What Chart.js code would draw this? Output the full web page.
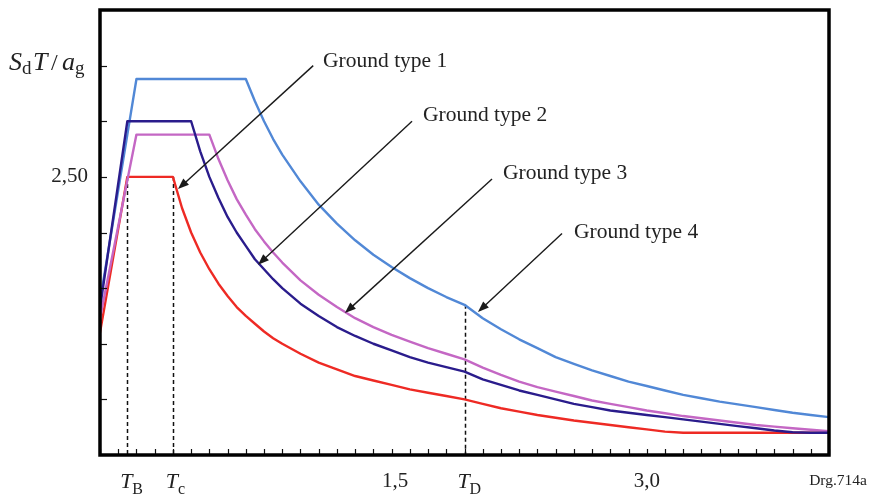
<!DOCTYPE html>
<html>
<head>
<meta charset="utf-8">
<script src="https://cdn.jsdelivr.net/npm/chart.js@4.4.1/dist/chart.umd.min.js"></script>
<style>
  body { margin: 0; background: #fff; }
  #wrap { width: 869px; height: 498px; }
</style>
</head>
<body>
<div id="wrap"><canvas id="spectrum" width="869" height="498"></canvas></div>
<script>
// periods T (s) shared by all four spectra
const periods = [0, 0.15, 0.2, 0.3, 0.4, 0.45, 0.5, 0.55, 0.6, 0.65, 0.7, 0.75, 0.8, 0.85, 0.9, 0.95, 1.0, 1.1, 1.2, 1.3, 1.4, 1.5, 1.6, 1.7, 1.8, 1.9, 2.0,
                 2.1, 2.2, 2.3, 2.4, 2.5, 2.6, 2.7, 2.8, 2.9, 3.0, 3.1, 3.2, 3.3, 3.4, 3.5, 3.6, 3.7, 3.8, 3.9, 4.0];

// Sd(T)/ag
const groundType1 = [1.10, 2.50, 2.50, 2.50, 2.50, 2.22, 2.00, 1.82, 1.67, 1.54, 1.43, 1.33, 1.25, 1.18, 1.11, 1.05, 1.00, 0.91, 0.83, 0.77, 0.71, 0.67, 0.63, 0.59, 0.56, 0.53, 0.50,
                     0.46, 0.42, 0.39, 0.36, 0.335, 0.31, 0.29, 0.27, 0.25, 0.23, 0.21, 0.20, 0.20, 0.20, 0.20, 0.20, 0.20, 0.20, 0.20, 0.20];
const groundType2 = [1.32, 3.00, 3.00, 3.00, 3.00, 3.00, 3.00, 2.73, 2.50, 2.31, 2.14, 2.00, 1.88, 1.76, 1.67, 1.58, 1.50, 1.36, 1.25, 1.15, 1.07, 1.00, 0.94, 0.88, 0.83, 0.79, 0.75,
                     0.68, 0.63, 0.58, 0.54, 0.50, 0.46, 0.43, 0.40, 0.38, 0.36, 0.34, 0.32, 0.30, 0.28, 0.26, 0.24, 0.22, 0.205, 0.20, 0.20];
const groundType3 = [1.23, 2.47, 2.88, 2.88, 2.88, 2.88, 2.88, 2.88, 2.88, 2.66, 2.47, 2.30, 2.16, 2.03, 1.92, 1.82, 1.73, 1.57, 1.44, 1.33, 1.23, 1.15, 1.08, 1.02, 0.96, 0.91, 0.86,
                     0.785, 0.72, 0.66, 0.61, 0.57, 0.53, 0.49, 0.46, 0.43, 0.40, 0.375, 0.35, 0.33, 0.31, 0.29, 0.27, 0.255, 0.24, 0.227, 0.215];
const groundType4 = [1.38, 2.88, 3.38, 3.38, 3.38, 3.38, 3.38, 3.38, 3.38, 3.38, 3.38, 3.38, 3.38, 3.18, 3.00, 2.84, 2.70, 2.46, 2.25, 2.08, 1.93, 1.80, 1.69, 1.59, 1.50, 1.42, 1.35,
                     1.23, 1.13, 1.04, 0.96, 0.88, 0.82, 0.76, 0.71, 0.66, 0.62, 0.58, 0.54, 0.51, 0.48, 0.455, 0.43, 0.405, 0.38, 0.36, 0.34];

// x axis labels (value, main text, subscript)
const xLabelAt = [0.15, 0.4, 1.62, 2.0, 3.0];
const xLabelText = ['T', 'T', '1,5', 'T', '3,0'];
const xLabelSub = ['B', 'c', '', 'D', ''];

// y axis labels
const yLabelAt = [2.5];
const yLabelText = ['2,50'];

// dashed markers for TB, TC, TD
const markerAt = [0.15, 0.4, 2.0];
const markerTop = [2.5, 2.5, 1.35];

// callouts, positions in data units
const notes = [
  { text: 'Ground type 1', tx: 1.224, ty: 3.54, from: [1.17, 3.50], to: [0.428, 2.39] },
  { text: 'Ground type 2', tx: 1.772, ty: 3.05, from: [1.712, 3.00], to: [0.867, 1.71] },
  { text: 'Ground type 3', tx: 2.211, ty: 2.535, from: [2.151, 2.48], to: [1.344, 1.276] },
  { text: 'Ground type 4', tx: 2.601, ty: 2.00, from: [2.535, 1.99], to: [2.074, 1.285] }
];

const SERIF = '"Liberation Serif", "DejaVu Serif", serif';

function series(vals) { return periods.map((t, i) => ({ x: t, y: vals[i] })); }

function arrow(ctx, x1, y1, x2, y2) {
  const a = Math.atan2(y2 - y1, x2 - x1), len = 11, hw = 4.2;
  ctx.beginPath(); ctx.moveTo(x1, y1); ctx.lineTo(x2 - Math.cos(a) * len * 0.8, y2 - Math.sin(a) * len * 0.8); ctx.stroke();
  ctx.beginPath();
  ctx.moveTo(x2, y2);
  ctx.lineTo(x2 - Math.cos(a) * len - Math.sin(a) * hw, y2 - Math.sin(a) * len + Math.cos(a) * hw);
  ctx.lineTo(x2 - Math.cos(a) * len + Math.sin(a) * hw, y2 - Math.sin(a) * len - Math.cos(a) * hw);
  ctx.closePath(); ctx.fill();
}

const markersPlugin = {
  id: 'markers',
  beforeDatasetsDraw(chart) {
    const { ctx, scales: { x, y } } = chart;
    ctx.save();
    ctx.strokeStyle = '#111'; ctx.lineWidth = 1.5; ctx.setLineDash([4, 3]);
    markerAt.forEach((t, i) => {
      const px = Math.round(x.getPixelForValue(t)) + 0.5;
      ctx.beginPath(); ctx.moveTo(px, y.getPixelForValue(markerTop[i])); ctx.lineTo(px, y.getPixelForValue(0)); ctx.stroke();
    });
    ctx.restore();
  }
};

const framePlugin = {
  id: 'frame',
  afterDraw(chart) {
    const { ctx, chartArea: a, scales: { x, y } } = chart;
    ctx.save();
    // ticks inside the frame
    ctx.strokeStyle = '#111'; ctx.lineWidth = 1.2;
    x.ticks.forEach(tk => {
      const px = Math.round(x.getPixelForValue(tk.value)) + 0.5;
      ctx.beginPath(); ctx.moveTo(px, a.bottom); ctx.lineTo(px, a.bottom - 6); ctx.stroke();
    });
    y.ticks.forEach(tk => {
      if (tk.value <= 0 || tk.value >= 4) return;
      const py = Math.round(y.getPixelForValue(tk.value)) + 0.5;
      ctx.beginPath(); ctx.moveTo(a.left, py); ctx.lineTo(a.left + 7, py); ctx.stroke();
    });
    // frame
    ctx.strokeStyle = '#000'; ctx.lineWidth = 3.5;
    ctx.strokeRect(a.left, a.top, a.right - a.left, a.bottom - a.top);

    // x labels
    ctx.fillStyle = '#222'; ctx.textBaseline = 'alphabetic';
    xLabelAt.forEach((t, i) => {
      const px = x.getPixelForValue(t);
      if (xLabelSub[i]) {
        ctx.font = 'italic 22px ' + SERIF; ctx.textAlign = 'center';
        ctx.fillText(xLabelText[i], px - 1, 488);
        ctx.font = '16px ' + SERIF; ctx.textAlign = 'left';
        ctx.fillText(xLabelSub[i], px + 5, 494);
      } else {
        ctx.font = '21px ' + SERIF; ctx.textAlign = 'center';
        ctx.fillText(xLabelText[i], px, 487);
      }
    });
    // y labels
    ctx.font = '21px ' + SERIF; ctx.textAlign = 'right'; ctx.textBaseline = 'middle';
    yLabelAt.forEach((v, i) => ctx.fillText(yLabelText[i], 88, y.getPixelForValue(v)));

    // y title  Sd T / ag
    ctx.textAlign = 'left'; ctx.textBaseline = 'alphabetic';
    ctx.font = 'italic 26px ' + SERIF; ctx.fillText('S', 9, 70);
    ctx.font = '19px ' + SERIF; ctx.fillText('d', 22, 74);
    ctx.font = 'italic 26px ' + SERIF; ctx.fillText('T', 33, 70);
    ctx.font = '24px ' + SERIF; ctx.fillText('/', 51, 70);
    ctx.font = 'italic 26px ' + SERIF; ctx.fillText('a', 62, 70);
    ctx.font = '19px ' + SERIF; ctx.fillText('g', 75, 74);

    // drawing number
    ctx.font = '15.5px ' + SERIF; ctx.textAlign = 'right';
    ctx.fillText('Drg.714a', 867, 485);

    // callouts
    ctx.strokeStyle = '#1a1a1a'; ctx.fillStyle = '#1a1a1a'; ctx.lineWidth = 1.4;
    notes.forEach(n => {
      arrow(ctx, x.getPixelForValue(n.from[0]), y.getPixelForValue(n.from[1]), x.getPixelForValue(n.to[0]), y.getPixelForValue(n.to[1]));
    });
    ctx.fillStyle = '#222'; ctx.font = '21.5px ' + SERIF; ctx.textAlign = 'left'; ctx.textBaseline = 'middle';
    notes.forEach(n => ctx.fillText(n.text, x.getPixelForValue(n.tx), y.getPixelForValue(n.ty)));
    ctx.restore();
  }
};

const lineStyle = { borderWidth: 2.4, pointRadius: 0, tension: 0, fill: false, borderJoinStyle: 'round' };

new Chart(document.getElementById('spectrum'), {
  type: 'line',
  data: {
    datasets: [
      { label: 'Ground type 2', data: series(groundType2), borderColor: '#2a1c8c', ...lineStyle },
      { label: 'Ground type 3', data: series(groundType3), borderColor: '#c467c4', ...lineStyle },
      { label: 'Ground type 1', data: series(groundType1), borderColor: '#ee2a24', ...lineStyle },
      { label: 'Ground type 4', data: series(groundType4), borderColor: '#5188d6', ...lineStyle }
    ]
  },
  options: {
    responsive: false,
    animation: false,
    layout: { padding: { left: 100, right: 40, top: 10, bottom: 43 } },
    plugins: { legend: { display: false }, tooltip: { enabled: false } },
    scales: {
      x: { type: 'linear', display: false, min: 0, max: 4,
           ticks: { stepSize: 0.1, autoSkip: false, maxTicksLimit: 100 } },
      y: { type: 'linear', display: false, min: 0, max: 4,
           ticks: { stepSize: 0.5 } }
    }
  },
  plugins: [markersPlugin, framePlugin]
});
</script>
</body>
</html>
